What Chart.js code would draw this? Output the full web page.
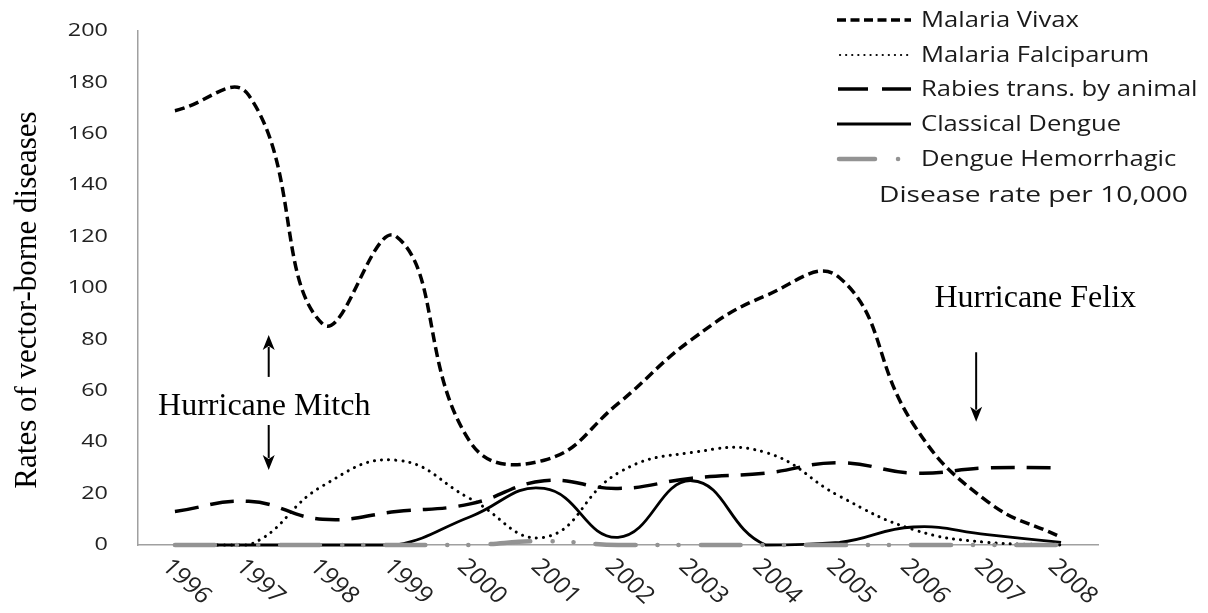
<!DOCTYPE html>
<html>
<head>
<meta charset="utf-8">
<script src="https://cdn.jsdelivr.net/npm/chart.js@4"></script>
<style>
  html, body { margin: 0; padding: 0; background: #fff; }
</style>
</head>
<body>
<canvas id="myChart" width="1208" height="613"></canvas>
<script>
const years = ['1996', '1997', '1998', '1999', '2000', '2001', '2002', '2003', '2004', '2005', '2006', '2007', '2008'];

const malariaVivax      = [169, 175, 86, 120, 40, 33, 55, 80, 97, 104, 47, 17, 3];
const malariaFalciparum = [0, 0, 23, 33, 18, 3, 28, 36, 36, 19, 6, 1, 0];
const rabiesAnimal      = [13, 17, 10, 13, 16, 25, 22, 26, 28, 32, 28, 30, 30];
const classicalDengue   = [0, 0, 0, 0, 11, 22, 3, 25, 0, 1, 7, 4, 1];
const dengueHemorrhagic = [0, 0, 0, 0, 0, 1.5, 0, 0, 0, 0, 0, 0, 0];

const seriesNames = ['Malaria Vivax', 'Malaria Falciparum', 'Rabies trans. by animal', 'Classical Dengue', 'Dengue Hemorrhagic'];
const legendNote = 'Disease rate per 10,000';
const yTitle = 'Rates of vector-borne diseases';

const sansFont = '"Open Sans"';
const serifFont = '"Liberation Serif"';

// text drawn with a horizontal stretch, the original looks stretched sideways
function stretchText(ctx, txt, x, y, sx, font, align, base, rot) {
  ctx.save();
  ctx.translate(x, y);
  ctx.scale(sx, 1);
  if (rot) ctx.rotate(rot);
  ctx.font = font;
  ctx.textAlign = align;
  ctx.textBaseline = base;
  ctx.fillText(txt, 0, 0);
  ctx.restore();
}

function arrow(ctx, x, y1, y2) {
  // shaft from y1 to y2, head at y2
  const dir = y2 > y1 ? 1 : -1;
  ctx.save();
  ctx.strokeStyle = '#000';
  ctx.fillStyle = '#000';
  ctx.lineWidth = 2;
  ctx.setLineDash([]);
  ctx.beginPath();
  ctx.moveTo(x, y1);
  ctx.lineTo(x, y2 - dir * 12);
  ctx.stroke();
  ctx.beginPath();
  ctx.moveTo(x, y2);
  ctx.lineTo(x - 6, y2 - dir * 15);
  ctx.lineTo(x, y2 - dir * 11);
  ctx.lineTo(x + 6, y2 - dir * 15);
  ctx.closePath();
  ctx.fill();
  ctx.restore();
}

const styles = [
  { color: '#000', width: 3.5, dash: [10, 5], cap: 'butt' },
  { color: '#000', width: 3, dash: [0.1, 7], cap: 'round' },
  { color: '#000', width: 3.5, dash: [24, 12], cap: 'butt' },
  { color: '#000', width: 2.8, dash: [], cap: 'butt' },
  { color: '#939393', width: 4.5, dash: [40, 22, 0.1, 21, 0.1, 22], cap: 'round' }
];

const textPlugin = {
  id: 'textPlugin',
  afterDraw(chart) {
    const { ctx, scales: { x, y } } = chart;
    ctx.save();

    // y ticks
    ctx.fillStyle = '#222';
    y.ticks.forEach(t => {
      stretchText(ctx, String(t.value), 108, y.getPixelForValue(t.value), 1.3, '18px ' + sansFont, 'right', 'middle');
    });

    // x ticks, turned down to the right
    years.forEach((lab, i) => {
      const px = x.getPixelForValue(i);
      stretchText(ctx, lab, px - 9, 563, 1.1, '23px ' + sansFont, 'left', 'middle', Math.PI / 4);
    });

    // y title
    ctx.fillStyle = '#000';
    ctx.save();
    ctx.translate(28, (chart.chartArea.top + chart.chartArea.bottom) / 2 + 12);
    ctx.rotate(-Math.PI / 2);
    ctx.font = '31px ' + serifFont;
    ctx.textAlign = 'center';
    ctx.textBaseline = 'middle';
    ctx.fillText(yTitle, 0, 0);
    ctx.restore();

    // legend
    const rows = [20, 55, 89, 124, 159];
    rows.forEach((ry, i) => {
      const s = styles[i];
      ctx.save();
      ctx.strokeStyle = s.color;
      ctx.lineWidth = s.width;
      ctx.lineCap = s.cap;
      if (i === 4) {
        ctx.setLineDash([]);
        ctx.beginPath(); ctx.moveTo(839, ry); ctx.lineTo(875, ry); ctx.stroke();
        ctx.beginPath(); ctx.moveTo(898, ry); ctx.lineTo(898.1, ry); ctx.stroke();
      } else if (i === 2) {
        ctx.setLineDash([30, 14]);
        ctx.beginPath(); ctx.moveTo(838, ry); ctx.lineTo(911, ry); ctx.stroke();
      } else if (i === 0) {
        ctx.setLineDash([9, 4.5]);
        ctx.beginPath(); ctx.moveTo(837, ry); ctx.lineTo(911, ry); ctx.stroke();
      } else if (i === 1) {
        ctx.lineWidth = 2.2;
        ctx.setLineDash([0.1, 6]);
        ctx.beginPath(); ctx.moveTo(840, ry); ctx.lineTo(908, ry); ctx.stroke();
      } else {
        ctx.setLineDash([]);
        ctx.beginPath(); ctx.moveTo(837, ry); ctx.lineTo(911, ry); ctx.stroke();
      }
      ctx.restore();
      ctx.fillStyle = '#1a1a1a';
      stretchText(ctx, seriesNames[i], 921, ry + 1, 1.22, '21px ' + sansFont, 'left', 'middle');
    });
    stretchText(ctx, legendNote, 879, 196, 1.28, '22px ' + sansFont, 'left', 'middle');

    // hurricane notes, placed in data units
    ctx.fillStyle = '#000';
    ctx.font = '32px ' + serifFont;
    ctx.textAlign = 'center';
    ctx.textBaseline = 'alphabetic';
    ctx.fillText('Hurricane Mitch', x.getPixelForValue(1.21), y.getPixelForValue(50.6));
    arrow(ctx, x.getPixelForValue(1.27), y.getPixelForValue(65.4), y.getPixelForValue(81.7));
    arrow(ctx, x.getPixelForValue(1.27), y.getPixelForValue(46.7), y.getPixelForValue(29.2));
    ctx.fillText('Hurricane Felix', x.getPixelForValue(11.65), y.getPixelForValue(92.6));
    arrow(ctx, x.getPixelForValue(10.85), y.getPixelForValue(75), y.getPixelForValue(48));

    ctx.restore();
  }
};

const seriesData = [malariaVivax, malariaFalciparum, rabiesAnimal, classicalDengue, dengueHemorrhagic];

const data = {
  labels: years,
  datasets: seriesData.map((d, i) => ({
    label: seriesNames[i],
    data: d,
    order: -i, // later series on top, like the original
    borderColor: styles[i].color,
    borderWidth: styles[i].width,
    borderDash: styles[i].dash,
    borderCapStyle: styles[i].cap,
    tension: 0.45,
    pointRadius: 0,
    clip: false,
    fill: false
  }))
};

const config = {
  type: 'line',
  data: data,
  options: {
    responsive: false,
    animation: false,
    devicePixelRatio: 1,
    layout: { padding: { top: 31, right: 110, bottom: 0, left: 0 } },
    plugins: {
      legend: { display: false },
      tooltip: { enabled: false }
    },
    scales: {
      x: {
        offset: true,
        grid: { display: false },
        border: { display: true, color: '#a0a0a0', width: 1.5 },
        ticks: { display: false },
        afterFit: s => { s.height = 68; }
      },
      y: {
        min: 0,
        max: 200,
        grid: { display: false },
        border: { display: true, color: '#a0a0a0', width: 1.5 },
        ticks: { display: false, stepSize: 20 },
        afterFit: s => { s.width = 138; }
      }
    }
  },
  plugins: [textPlugin]
};

new Chart(document.getElementById('myChart'), config);
</script>
</body>
</html>
